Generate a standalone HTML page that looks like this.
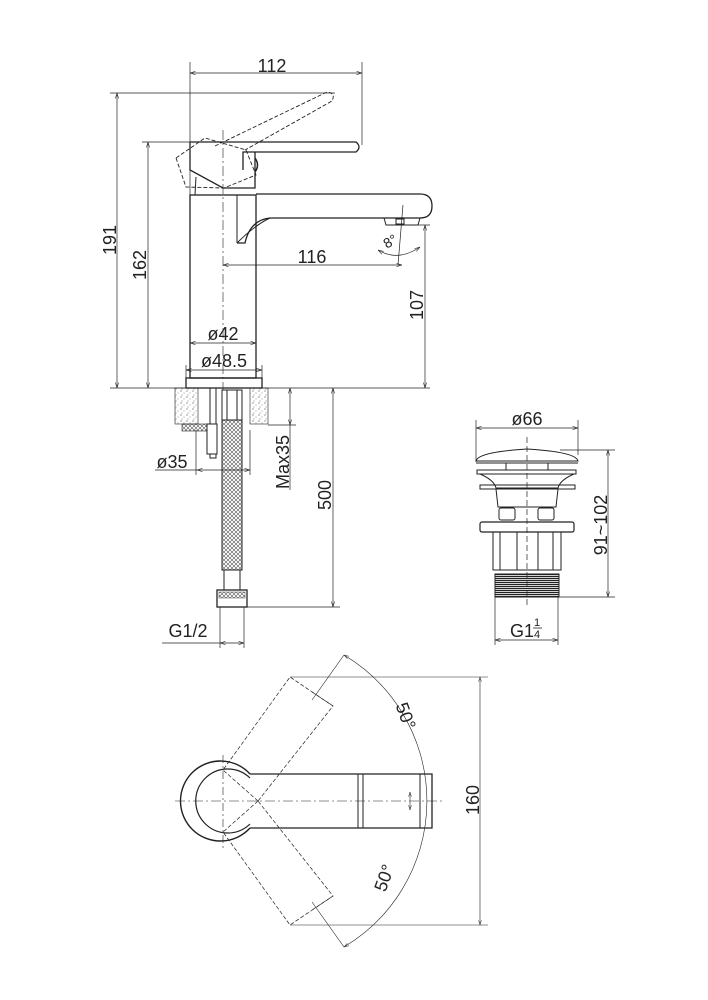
<!DOCTYPE html>
<html><head><meta charset="utf-8"><style>
html,body{margin:0;padding:0;background:#fff;}
svg{display:block;}
text{font-family:"Liberation Sans",sans-serif;fill:#222;}
</style></head><body>
<svg width="708" height="1000" viewBox="0 0 708 1000" xmlns="http://www.w3.org/2000/svg">
<defs>
<marker id="a" viewBox="0 0 10 10" refX="10" refY="5" markerWidth="8" markerHeight="8" orient="auto-start-reverse"><path d="M0,2 L10,5 L0,8" fill="none" stroke="#222" stroke-width="1"/></marker>
<pattern id="mesh" width="4" height="4" patternUnits="userSpaceOnUse"><path d="M0,0L4,4M4,0L0,4" stroke="#555" stroke-width="0.6"/></pattern>
<pattern id="stone" width="6" height="6" patternUnits="userSpaceOnUse"><circle cx="1" cy="1" r="0.6" fill="#555"/><circle cx="4" cy="3" r="0.5" fill="#777"/><circle cx="2" cy="5" r="0.5" fill="#666"/></pattern>
<pattern id="thr" width="4" height="2" patternUnits="userSpaceOnUse"><rect width="4" height="1.2" fill="#222"/></pattern>
</defs>
<g fill="none" stroke="#222" stroke-width="1">
<g stroke-width="0.7">
<line x1="190" y1="62" x2="190" y2="195"/><line x1="362" y1="62" x2="362" y2="145"/>
<line x1="190" y1="73" x2="362" y2="73" marker-start="url(#a)" marker-end="url(#a)"/>
<line x1="110" y1="93" x2="335" y2="93"/><line x1="110" y1="388" x2="430" y2="388"/>
<line x1="117" y1="93" x2="117" y2="388" marker-start="url(#a)" marker-end="url(#a)"/>
<line x1="142" y1="142" x2="190" y2="142"/>
<line x1="148" y1="142" x2="148" y2="388" marker-start="url(#a)" marker-end="url(#a)"/>
<line x1="223" y1="265" x2="402" y2="265" marker-start="url(#a)" marker-end="url(#a)"/>
<line x1="398" y1="225" x2="430" y2="225"/>
<line x1="425" y1="225" x2="425" y2="388" marker-start="url(#a)" marker-end="url(#a)"/>
<line x1="190" y1="343" x2="256" y2="343" marker-start="url(#a)" marker-end="url(#a)"/>
<line x1="186" y1="370" x2="262" y2="370" marker-start="url(#a)" marker-end="url(#a)"/>
<line x1="186" y1="365" x2="186" y2="379"/><line x1="262" y1="365" x2="262" y2="379"/>
<line x1="403" y1="205" x2="398" y2="265"/>
<path d="M378,250 Q398,262 420,247" marker-start="url(#a)" marker-end="url(#a)"/>
</g>
<line x1="223" y1="130" x2="223" y2="395" stroke-width="0.6" stroke-dasharray="10,3,2,3"/>
<g stroke-dasharray="4,2" stroke-width="0.9">
<path d="M215,146 L327,92 Q336,93 332,101 L245,150"/>
<path d="M176,158 L186,187 L224,188 L256,175 L246,150 L205,138 Z"/>
</g>
<path d="M190,142 L356,142 Q362,147 356,152 L243,152 L243,170" stroke-width="1.3"/>
<path d="M190,142 L190,170 L223,188 L255,188 L255,152" stroke-width="1.3"/>
<path d="M196,177 L195,195" />
<path d="M255,158 Q260,165 255,172" stroke-width="1.5"/>
<rect x="190" y="195" width="66" height="183" stroke-width="1.3"/>
<rect x="186" y="378" width="76" height="10" stroke-width="1.3"/>
<line x1="237" y1="195" x2="237" y2="243"/>
<path d="M256,194 L420,194 Q432,194 432,206 Q432,218 420,218 L270,218 Q250,220 245,243 L237,243" stroke-width="1.3"/>
<path d="M237,243 Q255,225 270,218"/>
<path d="M384,218 L386,225 L418,225 L420,218"/>
<rect x="396" y="219" width="8" height="5"/>
<text x="383" y="245" font-size="14" stroke="none" transform="rotate(-30 392 240)">8°</text>
<rect x="175" y="388" width="23" height="36" fill="url(#stone)" stroke-width="0.6"/>
<rect x="250" y="388" width="18" height="36" fill="url(#stone)" stroke-width="0.6"/>
<rect x="182" y="424" width="25" height="7" fill="url(#mesh)" stroke-width="0.6"/>
<rect x="210" y="388" width="6" height="70"/>
<rect x="207" y="424" width="10" height="30" fill="#fff"/>
<rect x="222" y="390" width="20" height="30" fill="#fff"/>
<line x1="227" y1="390" x2="227" y2="420"/><line x1="237" y1="390" x2="237" y2="420"/>
<rect x="222" y="420" width="20" height="150" fill="url(#mesh)"/>
<rect x="224" y="570" width="16" height="20" fill="#fff"/>
<rect x="217" y="590" width="30" height="17" fill="#fff" stroke-width="1.3"/>
<rect x="219" y="592" width="26" height="6" fill="url(#mesh)" stroke-width="0.4"/>
<g stroke-width="0.7">
<line x1="196" y1="430" x2="196" y2="475"/><line x1="250" y1="430" x2="250" y2="475"/>
<line x1="197" y1="470" x2="250" y2="470" marker-start="url(#a)" marker-end="url(#a)"/>
<line x1="155" y1="470" x2="197" y2="470"/>
<line x1="268" y1="425" x2="296" y2="425"/>
<line x1="290" y1="388" x2="290" y2="425" marker-start="url(#a)" marker-end="url(#a)"/>
<line x1="290" y1="425" x2="290" y2="490"/>
<line x1="247" y1="607" x2="340" y2="607"/>
<line x1="333" y1="388" x2="333" y2="607" marker-start="url(#a)" marker-end="url(#a)"/>
<line x1="220" y1="607" x2="220" y2="648"/><line x1="244" y1="607" x2="244" y2="648"/>
<line x1="220" y1="643" x2="244" y2="643" marker-start="url(#a)" marker-end="url(#a)"/>
<line x1="162" y1="643" x2="220" y2="643"/>
</g>
<g stroke-width="0.7">
<line x1="476" y1="420" x2="476" y2="462"/><line x1="578" y1="420" x2="578" y2="455"/>
<line x1="476" y1="428" x2="578" y2="428" marker-start="url(#a)" marker-end="url(#a)"/>
<line x1="560" y1="450" x2="615" y2="450"/><line x1="555" y1="597" x2="615" y2="597"/>
<line x1="608" y1="450" x2="608" y2="597" marker-start="url(#a)" marker-end="url(#a)"/>
<line x1="495" y1="597" x2="495" y2="645"/><line x1="558" y1="597" x2="558" y2="645"/>
<line x1="495" y1="640" x2="558" y2="640" marker-start="url(#a)" marker-end="url(#a)"/>
<line x1="527" y1="437" x2="527" y2="605" stroke-dasharray="6,3"/>
</g>
<path d="M476,461 Q478,452 527,449 Q576,452 578,461 Z"/>
<line x1="476" y1="463" x2="578" y2="463"/>
<line x1="506" y1="463" x2="506" y2="470"/><line x1="548" y1="463" x2="548" y2="470"/>
<rect x="477" y="470" width="99" height="4"/>
<path d="M480,474 Q494,480 496,488 L558,488 Q560,480 574,474"/>
<rect x="480" y="485" width="95" height="4"/>
<path d="M496,489 L498,507 L556,507 L558,489"/>
<rect x="499" y="508" width="16" height="12" rx="2"/><rect x="538" y="508" width="16" height="12" rx="2"/>
<rect x="480" y="522" width="94" height="10" rx="2" stroke-width="1.2"/>
<path d="M493,532 L493,570 L561,570 L561,532"/>
<line x1="500" y1="532" x2="500" y2="570"/><line x1="517" y1="532" x2="517" y2="570"/>
<line x1="538" y1="532" x2="538" y2="570"/><line x1="553" y1="532" x2="553" y2="570"/>
<rect x="495" y="574" width="64" height="23" fill="url(#thr)"/>
<g stroke-width="0.6">
<line x1="175" y1="801" x2="445" y2="801" stroke-dasharray="10,3,2,3"/>
<line x1="223" y1="755" x2="223" y2="850" stroke-dasharray="8,3,2,3"/>
<line x1="290" y1="677" x2="488" y2="677"/><line x1="290" y1="925" x2="488" y2="925"/>
<line x1="480" y1="677" x2="480" y2="925" marker-start="url(#a)" marker-end="url(#a)"/>
<path d="M344,655 A170,170 0 0 1 344,947" marker-start="url(#a)" marker-end="url(#a)"/>
<line x1="344" y1="655" x2="312" y2="700"/><line x1="344" y1="947" x2="312" y2="902"/>
<line x1="410" y1="792" x2="410" y2="810" marker-start="url(#a)" marker-end="url(#a)"/>
</g>
<g stroke-dasharray="4,2" stroke-width="0.7">
<path d="M258,801 L223,770 L290,677 L333,706 Z"/>
<path d="M258,801 L223,832 L290,925 L333,896 Z"/>
<line x1="312" y1="692" x2="333" y2="706"/><line x1="312" y1="910" x2="333" y2="896"/>
</g>
<path d="M250,774 A40,40 0 1 0 250,828" stroke-width="1.4"/>
<path d="M250,778 A32,32 0 1 0 250,824" stroke-width="1.2"/>
<path d="M250,774 L432,774 L432,828 L250,828" stroke-width="1.3"/>
<line x1="358" y1="774" x2="358" y2="828"/><line x1="363" y1="774" x2="363" y2="828"/>
<line x1="420" y1="774" x2="420" y2="828"/>
</g>
<g stroke="none" font-size="18">
<text x="272" y="72" text-anchor="middle">112</text>
<text x="0" y="0" text-anchor="middle" transform="translate(116,240) rotate(-90)">191</text>
<text x="0" y="0" text-anchor="middle" transform="translate(146,265) rotate(-90)">162</text>
<text x="312" y="263" text-anchor="middle">116</text>
<text x="0" y="0" text-anchor="middle" transform="translate(423,305) rotate(-90)">107</text>
<text x="223" y="340" text-anchor="middle">ø42</text>
<text x="224" y="367" text-anchor="middle">ø48.5</text>
<text x="172" y="468" text-anchor="middle">ø35</text>
<text x="0" y="0" text-anchor="middle" transform="translate(289,462) rotate(-90)">Max35</text>
<text x="0" y="0" text-anchor="middle" transform="translate(331,495) rotate(-90)">500</text>
<text x="188" y="637" text-anchor="middle">G1/2</text>
<text x="527" y="425" text-anchor="middle">ø66</text>
<text x="0" y="0" text-anchor="middle" transform="translate(607,525) rotate(-90)">91~102</text>
<text x="522" y="637" text-anchor="middle">G1</text>
<text x="537" y="626" font-size="11" text-anchor="middle">1</text>
<line x1="533" y1="628" x2="542" y2="628" stroke="#222" stroke-width="0.8"/>
<text x="537" y="638" font-size="11" text-anchor="middle">4</text>
<text x="0" y="0" text-anchor="middle" transform="translate(479,800) rotate(-90)">160</text>
<text x="0" y="0" text-anchor="middle" transform="translate(400,718) rotate(70)">50°</text>
<text x="0" y="0" text-anchor="middle" transform="translate(390,880) rotate(-70)">50°</text>
</g>
</svg>
</body></html>
